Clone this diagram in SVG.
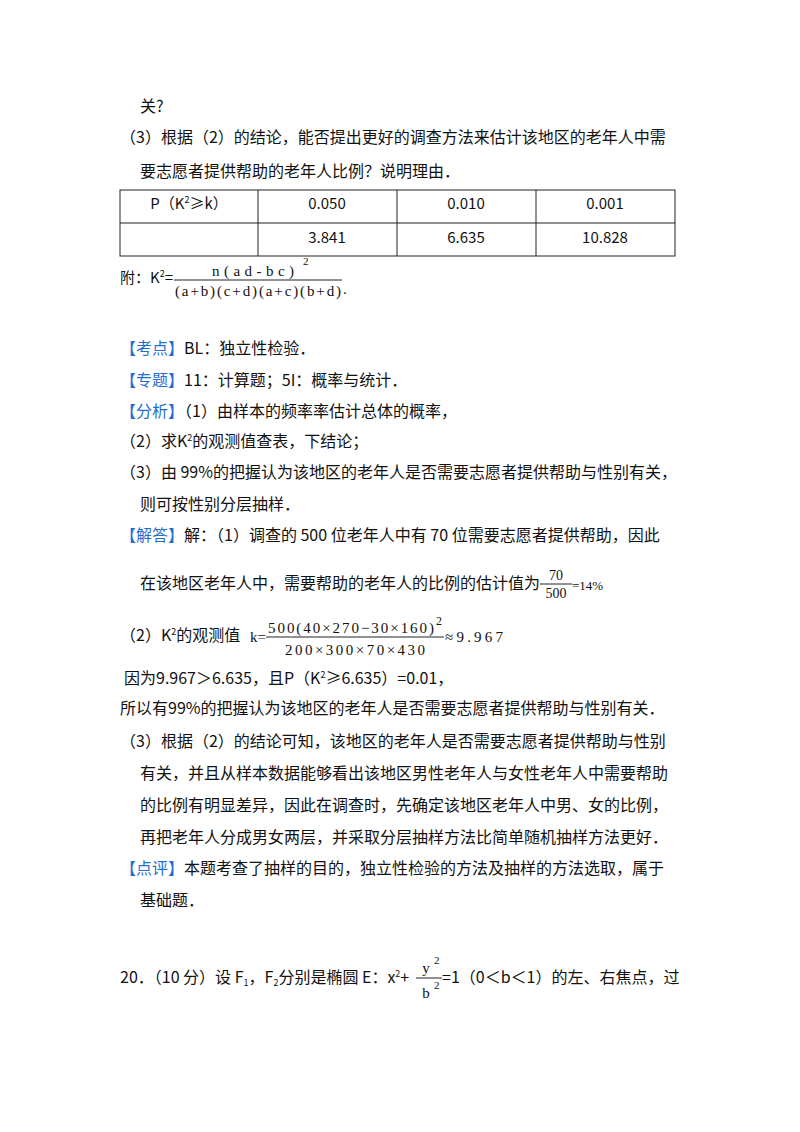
<svg xmlns="http://www.w3.org/2000/svg" width="800" height="1132" viewBox="0 0 800 1132">
<style>
text{font-family:"Noto Sans CJK SC","Liberation Sans",sans-serif;font-size:16px;fill:#111}
.s{font-family:"Liberation Serif","Noto Sans CJK SC",serif;font-size:15px}
.b{fill:#1f6fd0}
.c{text-anchor:middle;font-size:15px}
.sm{font-size:9px}
line{stroke:#222;stroke-width:1}
</style>
<rect width="800" height="1132" fill="#fff"/>
<text x="140" y="112">关?</text>
<text x="120" y="143">（3）根据（2）的结论，能否提出更好的调查方法来估计该地区的老年人中需</text>
<text x="140" y="177">要志愿者提供帮助的老年人比例？说明理由．</text>
<g id="table">
<rect x="120" y="190" width="555" height="66" fill="none" stroke="#222"/>
<line x1="120" y1="223" x2="675" y2="223"/>
<line x1="258" y1="190" x2="258" y2="256"/>
<line x1="397" y1="190" x2="397" y2="256"/>
<line x1="536" y1="190" x2="536" y2="256"/>
<text x="189" y="209" class="c">P（K<tspan class="sm" dy="-6">2</tspan><tspan dy="6">≥k）</tspan></text>
<text x="327" y="209" class="c">0.050</text>
<text x="466" y="209" class="c">0.010</text>
<text x="605" y="209" class="c">0.001</text>
<text x="327" y="243" class="c">3.841</text>
<text x="466" y="243" class="c">6.635</text>
<text x="605" y="243" class="c">10.828</text>
</g>
<text x="120" y="283" style="font-size:15px">附：K<tspan class="sm" dy="-6">2</tspan><tspan dy="6">=</tspan></text>
<text x="212" y="276" class="s" textLength="82" lengthAdjust="spacing">n(ad-bc)</text>
<text x="303" y="265" class="s" style="font-size:11px">2</text>
<line x1="174" y1="280" x2="342" y2="280"/>
<text x="175" y="296" class="s" textLength="166" lengthAdjust="spacing">(a+b)(c+d)(a+c)(b+d)</text>
<text x="343" y="294" class="s">.</text>

<text x="120" y="354"><tspan class="b">【考点】</tspan>BL：独立性检验．</text>
<text x="120" y="386"><tspan class="b">【专题】</tspan>11：计算题；5I：概率与统计．</text>
<text x="120" y="417"><tspan class="b">【分析】</tspan>（1）由样本的频率率估计总体的概率，</text>
<text x="120" y="447">（2）求K<tspan class="sm" dy="-6">2</tspan><tspan dy="6">的观测值查表，下结论；</tspan></text>
<text x="120" y="478">（3）由 99%的把握认为该地区的老年人是否需要志愿者提供帮助与性别有关，</text>
<text x="140" y="510">则可按性别分层抽样．</text>
<text x="120" y="541"><tspan class="b">【解答】</tspan>解：（1）调查的 500 位老年人中有 70 位需要志愿者提供帮助，因此</text>
<text x="140" y="589">在该地区老年人中，需要帮助的老年人的比例的估计值为</text>
<text x="556" y="580" class="s" text-anchor="middle" style="font-size:14px">70</text>
<line x1="540" y1="584" x2="572" y2="584"/>
<text x="556" y="598" class="s" text-anchor="middle" style="font-size:14px">500</text>
<text x="572" y="590" class="s" style="font-size:13px">=14%</text>

<text x="120" y="641">（2）K<tspan class="sm" dy="-6">2</tspan><tspan dy="6">的观测值</tspan></text>
<text x="250" y="642" class="s">k=</text>
<text x="268" y="633" class="s" textLength="166" lengthAdjust="spacing">500(40×270−30×160)</text>
<text x="436" y="625" class="s" style="font-size:12px">2</text>
<line x1="266" y1="637" x2="444" y2="637"/>
<text x="285" y="655" class="s" textLength="140" lengthAdjust="spacing">200×300×70×430</text>
<text x="445" y="642" class="s" textLength="58" lengthAdjust="spacing">≈9.967</text>

<text x="124" y="684">因为9.967＞6.635，且P（K<tspan class="sm" dy="-6">2</tspan><tspan dy="6">≥6.635）=0.01，</tspan></text>
<text x="120" y="714">所以有99%的把握认为该地区的老年人是否需要志愿者提供帮助与性别有关．</text>
<text x="120" y="747">（3）根据（2）的结论可知，该地区的老年人是否需要志愿者提供帮助与性别</text>
<text x="140" y="779">有关，并且从样本数据能够看出该地区男性老年人与女性老年人中需要帮助</text>
<text x="140" y="811">的比例有明显差异，因此在调查时，先确定该地区老年人中男、女的比例，</text>
<text x="140" y="843">再把老年人分成男女两层，并采取分层抽样方法比简单随机抽样方法更好．</text>
<text x="120" y="874"><tspan class="b">【点评】</tspan>本题考查了抽样的目的，独立性检验的方法及抽样的方法选取，属于</text>
<text x="140" y="906">基础题．</text>

<text x="120" y="983">20．（10 分）设 F<tspan class="sm" dy="3">1</tspan><tspan dy="-3">，F</tspan><tspan class="sm" dy="3">2</tspan><tspan dy="-3">分别是椭圆 E：x</tspan><tspan class="sm" dy="-6">2</tspan><tspan dy="6">+</tspan></text>
<text x="426" y="973" class="s" text-anchor="middle">y</text>
<text x="434" y="964" class="s" style="font-size:11px">2</text>
<line x1="416" y1="978" x2="442" y2="978"/>
<text x="426" y="998" class="s" text-anchor="middle">b</text>
<text x="434" y="989" class="s" style="font-size:11px">2</text>
<text x="442" y="983">=1（0＜b＜1）的左、右焦点，过</text>
</svg>
